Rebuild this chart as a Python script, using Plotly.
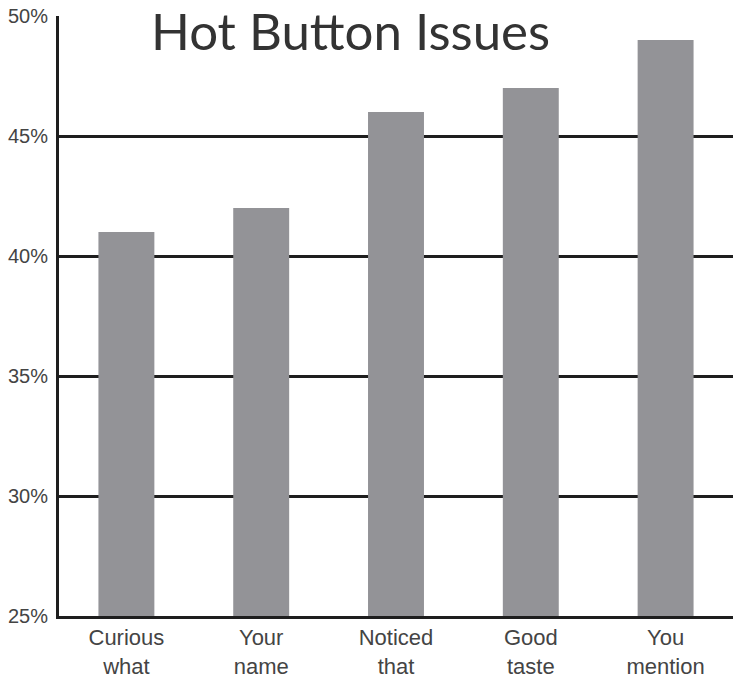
import plotly.graph_objects as go

categories = ["Curious<br>what", "Your<br>name", "Noticed<br>that", "Good<br>taste", "You<br>mention"]
values = [41, 42, 46, 47, 49]
tick_vals = [25, 30, 35, 40, 45, 50]
tick_text = ["25%", "30%", "35%", "40%", "45%", "50%"]

fig = go.Figure(
    go.Bar(
        x=categories,
        y=values,
        marker=dict(color="#939397", line=dict(width=0)),
        width=0.415,
    )
)

fig.update_layout(
    width=733,
    height=684,
    margin=dict(l=59, r=0, t=16, b=68),
    paper_bgcolor="white",
    plot_bgcolor="white",
    showlegend=False,
    bargap=0.585,
    annotations=[
        dict(
            text="Hot Button Issues",
            xref="paper", yref="paper",
            x=(350 - 59) / 674, y=1.0,
            xanchor="center", yanchor="middle",
            yshift=-14,
            showarrow=False,
            font=dict(family="Lato", size=51, color="#333333"),
        )
    ],
)

fig.update_xaxes(
    showline=True,
    linecolor="#1e1e1e",
    linewidth=3,
    showgrid=False,
    ticks="",
    tickfont=dict(family="Liberation Sans, Arial", size=22, color="#444444"),
    fixedrange=True,
)

fig.update_yaxes(
    range=[25, 50],
    tickvals=tick_vals,
    ticktext=tick_text,
    showline=True,
    linecolor="#1e1e1e",
    linewidth=3,
    showgrid=True,
    gridcolor="#1e1e1e",
    gridwidth=3,
    zeroline=False,
    ticks="",
    ticklabelstandoff=4,
    tickfont=dict(family="Liberation Sans, Arial", size=20, color="#444444"),
    fixedrange=True,
)

fig.write_html("out.html")
